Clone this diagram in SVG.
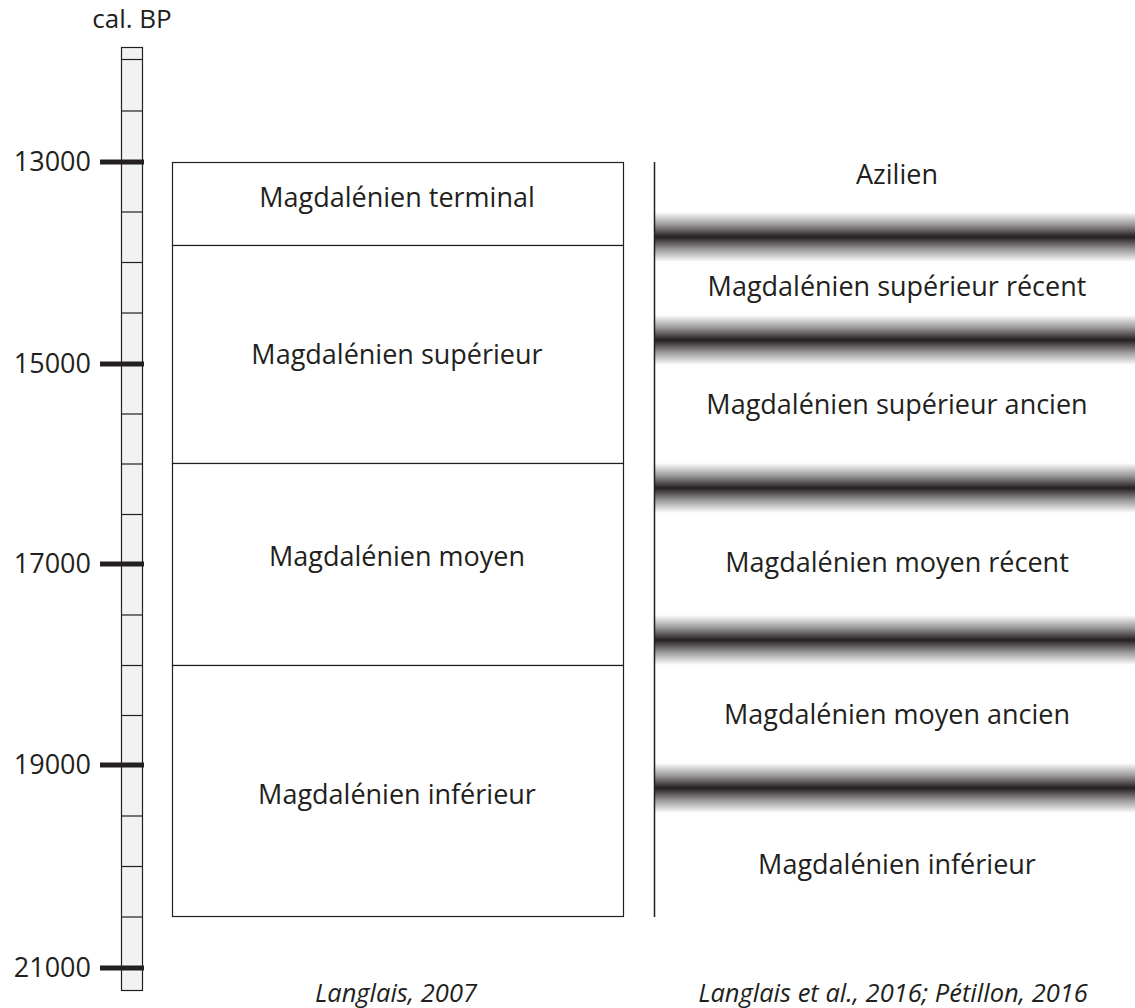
<svg xmlns="http://www.w3.org/2000/svg" width="1135" height="1008" viewBox="0 0 1135 1008">
<style>
text{font-family:"Open Sans","Noto Sans","Liberation Sans",sans-serif;fill:#231f20}
.lab{font-size:27px;text-anchor:middle}
.num{font-size:27px;text-anchor:end}
.ref{font-size:25.5px;font-style:italic;text-anchor:middle}
.box{fill:#fff;stroke:#231f20;stroke-width:1.2}
.minor{stroke:#231f20;stroke-width:1.2}
.major{stroke:#231f20;stroke-width:5}
</style>
<defs>
<linearGradient id="band" x1="0" y1="0" x2="0" y2="1">
<stop offset="0" stop-color="#231f20" stop-opacity="0"/>
<stop offset="0.25" stop-color="#231f20" stop-opacity="0.45"/>
<stop offset="0.5" stop-color="#231f20" stop-opacity="1"/>
<stop offset="0.75" stop-color="#231f20" stop-opacity="0.45"/>
<stop offset="1" stop-color="#231f20" stop-opacity="0"/>
</linearGradient>
</defs>
<rect width="1135" height="1008" fill="#fff"/>
<g id="scale">
<text x="132" y="28" style="font-size:26px;text-anchor:middle">cal. BP</text>
<rect x="121.5" y="47.5" width="21" height="943" fill="#f1f2f3" stroke="#231f20" stroke-width="1.2"/>
<g class="minor">
<line x1="121.5" y1="59.5" x2="142.5" y2="59.5"/>
<line x1="121.5" y1="111" x2="142.5" y2="111"/>
<line x1="121.5" y1="212" x2="142.5" y2="212"/>
<line x1="121.5" y1="262.5" x2="142.5" y2="262.5"/>
<line x1="121.5" y1="313" x2="142.5" y2="313"/>
<line x1="121.5" y1="414" x2="142.5" y2="414"/>
<line x1="121.5" y1="464" x2="142.5" y2="464"/>
<line x1="121.5" y1="514.5" x2="142.5" y2="514.5"/>
<line x1="121.5" y1="615" x2="142.5" y2="615"/>
<line x1="121.5" y1="665.5" x2="142.5" y2="665.5"/>
<line x1="121.5" y1="715.5" x2="142.5" y2="715.5"/>
<line x1="121.5" y1="816" x2="142.5" y2="816"/>
<line x1="121.5" y1="866.5" x2="142.5" y2="866.5"/>
<line x1="121.5" y1="917" x2="142.5" y2="917"/>
</g>
<g class="major">
<line x1="100" y1="162" x2="144" y2="162"/>
<line x1="100" y1="364" x2="144" y2="364"/>
<line x1="100" y1="564" x2="144" y2="564"/>
<line x1="100" y1="765" x2="144" y2="765"/>
<line x1="100" y1="968" x2="144" y2="968"/>
</g>
<text class="num" x="91" y="171">13000</text>
<text class="num" x="91" y="373">15000</text>
<text class="num" x="91" y="573">17000</text>
<text class="num" x="91" y="774">19000</text>
<text class="num" x="91" y="977">21000</text>
</g>
<g id="left-column">
<rect class="box" x="172.5" y="162.5" width="451" height="83"/>
<rect class="box" x="172.5" y="245.5" width="451" height="218"/>
<rect class="box" x="172.5" y="463.5" width="451" height="202"/>
<rect class="box" x="172.5" y="665.5" width="451" height="251"/>
<text class="lab" x="397" y="207">Magdalénien terminal</text>
<text class="lab" x="397" y="364">Magdalénien supérieur</text>
<text class="lab" x="397" y="566">Magdalénien moyen</text>
<text class="lab" x="397" y="804">Magdalénien inférieur</text>
<text class="ref" x="396" y="1002">Langlais, 2007</text>
</g>
<g id="right-column">
<line x1="654.5" y1="162" x2="654.5" y2="917" stroke="#231f20" stroke-width="1.5"/>
<rect x="655" y="212" width="480" height="50" fill="url(#band)"/>
<rect x="655" y="315" width="480" height="50" fill="url(#band)"/>
<rect x="655" y="463" width="480" height="50" fill="url(#band)"/>
<rect x="655" y="615" width="480" height="50" fill="url(#band)"/>
<rect x="655" y="763" width="480" height="50" fill="url(#band)"/>
<text class="lab" x="897" y="184">Azilien</text>
<text class="lab" x="897" y="296">Magdalénien supérieur récent</text>
<text class="lab" x="897" y="414">Magdalénien supérieur ancien</text>
<text class="lab" x="897" y="572">Magdalénien moyen récent</text>
<text class="lab" x="897" y="724">Magdalénien moyen ancien</text>
<text class="lab" x="897" y="874">Magdalénien inférieur</text>
<text class="ref" x="893" y="1002">Langlais et al., 2016; Pétillon, 2016</text>
</g>
</svg>
